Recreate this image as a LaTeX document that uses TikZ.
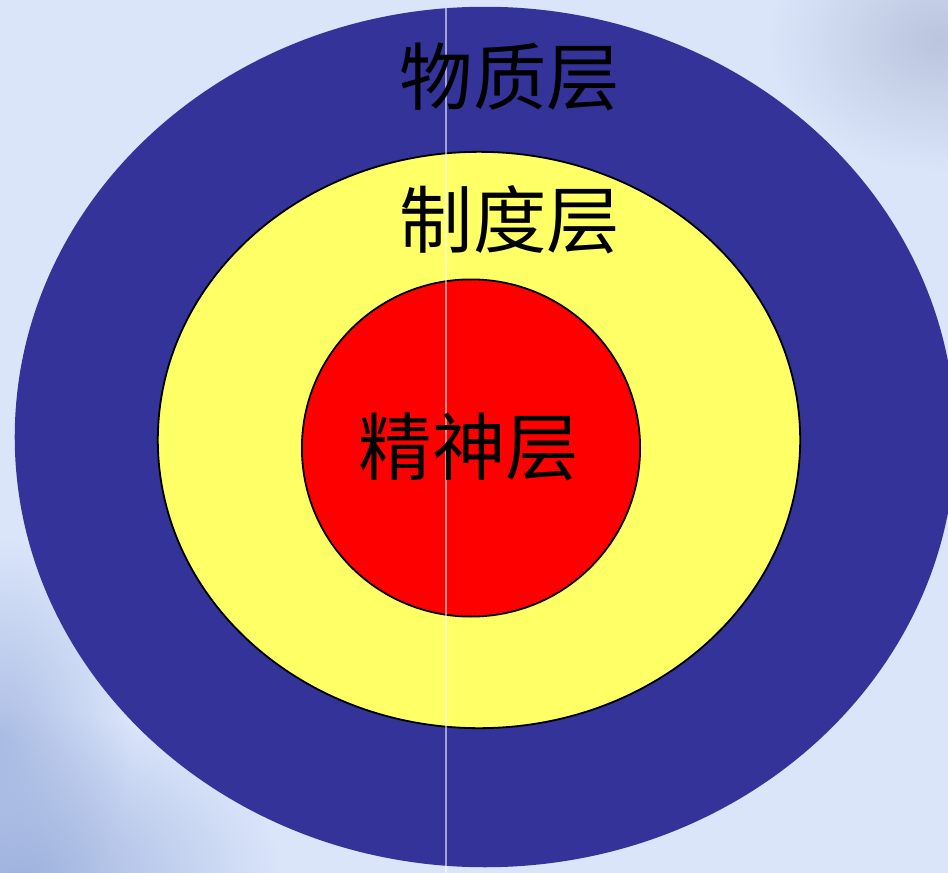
\documentclass[tikz,border=0pt]{standalone}
\usepackage{fontspec}
\newfontfamily\cjk{Noto Sans CJK SC}
\usetikzlibrary{shapes.geometric,fadings}
\definecolor{bgc}{HTML}{DAE5FA}
\definecolor{bgdark}{HTML}{9AAEDC}
\definecolor{bggrey}{HTML}{B3BDD6}
\definecolor{outerblue}{HTML}{333399}
\definecolor{midyellow}{HTML}{FFFF66}
\definecolor{innerred}{HTML}{FF0000}
\tikzfading[name=softblob, inner color=transparent!0, outer color=transparent!100]
\tikzset{
  ring/.style={ellipse, inner sep=0pt, outer sep=0pt},
  cloud blob/.style={path fading=softblob},
  layertext/.style={font=\cjk\fontsize{53}{63}\selectfont, text=black, inner sep=0pt, anchor=center}
}
\begin{document}
\begin{tikzpicture}[x=0.01in, y=-0.01in]
\useasboundingbox (0,0) rectangle (948,873);
\fill[bgc] (0,0) rectangle (948,873);
\begin{scope}
\clip (0,0) rectangle (948,873);
\fill[bgdark, cloud blob, opacity=0.9] (20,880) ellipse (260 and 170);
\fill[bgdark, cloud blob, opacity=0.7] (0,740) ellipse (130 and 200);
\fill[bggrey, cloud blob, opacity=0.8] (940,40) ellipse (170 and 130);
% rings
\node[ring, fill=outerblue, minimum width=9.40in, minimum height=8.60in] (outer) at (485,437) {};
\node[ring, fill=midyellow, draw=black, line width=1.3pt, minimum width=6.42in, minimum height=5.76in] (middle) at (479,440) {};
\node[ring, fill=innerred, draw=black, line width=1.3pt, minimum width=3.38in, minimum height=3.37in] (inner) at (471,448) {};
\coordinate (lt) at (446,8);
\coordinate (lb) at (446,873);
\draw[white, opacity=0.55, line width=1.5pt] (lt) -- (lb);
\end{scope}
\node[layertext] (t1) at (510,77) {物质层};
\node[layertext] (t2) at (510,220) {制度层};
\node[layertext] (t3) at (469,447) {精神层};
\end{tikzpicture}
\end{document}
